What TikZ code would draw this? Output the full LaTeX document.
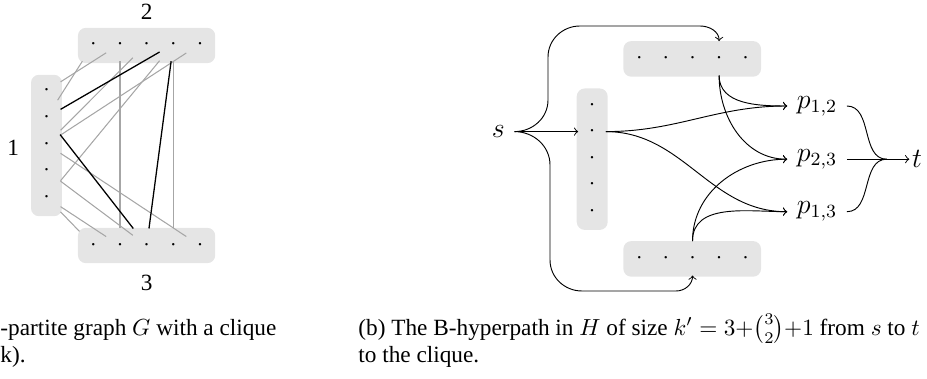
\documentclass[tikz,border=0pt]{standalone}
\usepackage{fontspec}
\setmainfont{Liberation Serif}
\usepackage{amsmath}
\usetikzlibrary{arrows}

\begin{document}
\begin{tikzpicture}[x=0.43pt,y=0.43pt,
    part/.style={fill=gray!20, rounded corners=3.4pt, inner sep=0pt},
    vtx/.style={minimum width=11.5pt, minimum height=14.4pt, inner sep=0pt},
    gedge/.style={draw=gray!70, line width=0.45pt},
    cedge/.style={draw=black, line width=0.55pt},
    lbl/.style={font=\large, inner sep=4pt},
    capt/.style={anchor=base west, inner sep=0pt}]

        \useasboundingbox (0,0) rectangle (927,378);
        \clip (0,0) rectangle (927,378);

        % the 3-partite graph G
        \node[part, minimum width=13.3pt, minimum height=60.8pt] (P1) at (46.5,232.5) {};
        \node[part, minimum width=59pt, minimum height=15.2pt] (P2) at (146.6,332.5) {};
        \node[part, minimum width=59pt, minimum height=15.2pt] (P3) at (146.6,132.5) {};
        \node (l1) at (13.3,229.7) {1};
        \node (l2) at (146.7,366.3) {2};
        \node (l3) at (146.7,94.7) {3};
        \node[vtx] (a1) at (46.7,287.3) {$\cdot$};
        \node[vtx] (a2) at (46.7,260.6) {$\cdot$};
        \node[vtx] (a3) at (46.7,233.9) {$\cdot$};
        \node[vtx] (a4) at (46.7,207.2) {$\cdot$};
        \node[vtx] (a5) at (46.7,180.5) {$\cdot$};
        \node[vtx] (b1) at (93.3,334) {$\cdot$};
        \node[vtx] (b2) at (120,334) {$\cdot$};
        \node[vtx] (b3) at (146.7,334) {$\cdot$};
        \node[vtx] (b4) at (173.4,334) {$\cdot$};
        \node[vtx] (b5) at (200.1,334) {$\cdot$};
        \node[vtx] (c1) at (93.3,132.3) {$\cdot$};
        \node[vtx] (c2) at (120,132.3) {$\cdot$};
        \node[vtx] (c3) at (146.7,132.3) {$\cdot$};
        \node[vtx] (c4) at (173.4,132.3) {$\cdot$};
        \node[vtx] (c5) at (200.1,132.3) {$\cdot$};
        \draw[gedge] (a1) -- (b2);
        \draw[gedge] (a2) -- (b1);
        \draw[gedge] (a3) -- (b3);
        \draw[gedge] (a3) -- (b5);
        \draw[gedge] (a5) -- (b4);
        \draw[gedge] (a3) -- (c5);
        \draw[gedge] (a4) -- (c3);
        \draw[gedge] (a5) -- (c2);
        \draw[gedge] (a5) -- (c1);
        \draw[gedge] (b2) -- (c2);
        \draw[gedge] (b4) -- (c4);
        \draw[cedge] (a2) -- (b4);
        \draw[cedge] (a2) -- (c3);
        \draw[cedge] (b4) -- (c3);

        % the B-hyperpath in H
        \node[part, minimum width=13.3pt, minimum height=60.8pt] (P1') at (592.2,218.8) {};
        \node[part, minimum width=59.2pt, minimum height=15.3pt] (P2') at (692.2,319.1) {};
        \node[part, minimum width=59.2pt, minimum height=15.3pt] (P3') at (692.2,119.1) {};
        \node[vtx] (a1') at (592,273) {$\cdot$};
        \node[vtx] (a2') at (592,246.4) {$\cdot$};
        \node[vtx] (a3') at (592,219.8) {$\cdot$};
        \node[vtx] (a4') at (592,193.2) {$\cdot$};
        \node[vtx] (a5') at (592,166.6) {$\cdot$};
        \node[vtx] (b1') at (639.3,319.7) {$\cdot$};
        \node[vtx] (b2') at (665.9,319.7) {$\cdot$};
        \node[vtx] (b3') at (692.5,319.7) {$\cdot$};
        \node[vtx] (b4') at (719.1,319.7) {$\cdot$};
        \node[vtx] (b5') at (745.7,319.7) {$\cdot$};
        \node[vtx] (c1') at (639.3,119.7) {$\cdot$};
        \node[vtx] (c2') at (665.9,119.7) {$\cdot$};
        \node[vtx] (c3') at (692.5,119.7) {$\cdot$};
        \node[vtx] (c4') at (719.1,119.7) {$\cdot$};
        \node[vtx] (c5') at (745.7,119.7) {$\cdot$};
        \node[lbl] (s) at (498.3,246.4) {$s$};
        \node[lbl] (p12) at (817,272) {$p_{1,2}$};
        \node[lbl] (p23) at (817,218.8) {$p_{2,3}$};
        \node[lbl] (p13) at (817,166.3) {$p_{1,3}$};
        \node[lbl, inner sep=1pt] (t) at (917,218.8) {$t$};
        \coordinate (join) at (886.7,218.8);
        \draw[->] (s.east) to[out=0,in=-90] (548,278) -- (548,321)
            to[out=90,in=180] (580,352) -- (700,352) to[out=0,in=90] (b4'.north);
        \draw[->] (s) -- (a2');
        \draw[->] (s.east) to[out=0,in=90] (550,213) -- (550,118)
            to[out=-90,in=180] (582,87) -- (676,87) to[out=0,in=-90] (c3'.south);
        \draw[->] (a2'.east) to[out=0,in=180] (p12.west);
        \draw[->] (a2'.east) to[out=0,in=180] (p13.west);
        \draw[->] (b4'.south) to[out=-90,in=180] (p12.west);
        \draw[->] (b4'.south) to[out=-90,in=180] (p23.west);
        \draw[->] (c3'.north) to[out=90,in=180] (p23.west);
        \draw[->] (c3'.north) to[out=90,in=180] (p13.west);
        \draw (p12.east) to[out=0,in=180] (join);
        \draw (p23.east) -- (join);
        \draw (p13.east) to[out=0,in=180] (join);
        \draw[->] (join) -- (t);

        % captions
        \node[capt] (capA1) at (0,43) {-partite graph $G$ with a clique};
        \node[capt] (capA2) at (0,16) {k).};
        \node[capt] (capB1) at (358,43) {(b) The B-hyperpath in $H$ of size $k'=3{+}\binom{3}{2}{+}1$ from $s$ to $t$};
        \node[capt] (capB2) at (358,16) {to the clique.};
\end{tikzpicture}
\end{document}
